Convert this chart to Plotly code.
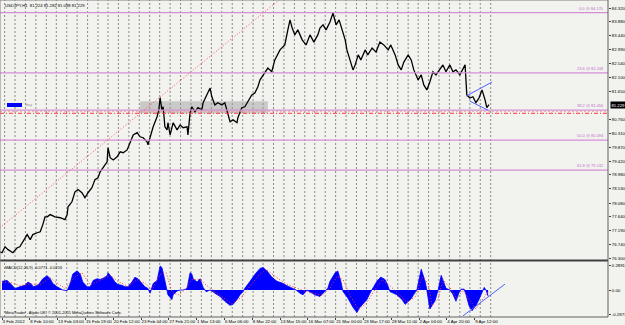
import datetime as dt
import plotly.graph_objects as go

# ---------------- data ----------------
header_text = "USDJPY,H1  81.224 81.282 81.098 81.229"
macd_text = "MACD(12,26,9) -0.0771 -0.0216"
copyright_text = "MetaTrader - Alpari UK, \u00a9 2001-2011 MetaQuotes Software Corp."

price_bar = [-5, 0, 7, 14, 25, 35, 41, 48, 58, 65, 71, 81, 88, 94, 99, 104, 111, 122, 134, 145,
             150, 152, 161, 168, 175, 184, 191, 198, 207, 214, 221, 226, 233, 242, 244, 249, 256,
             265, 272, 279, 288, 295, 302, 311, 318, 325, 334, 336, 341, 348, 357, 361, 364, 368,
             371, 375, 380, 382, 387, 394, 403, 410, 417, 426, 428, 433, 437, 444, 451, 460, 463,
             472, 479, 483, 490, 497, 506, 513, 518, 525, 532, 541, 543, 552, 559, 566, 575, 582,
             589, 594, 601, 612, 621, 628, 640, 651, 658, 663, 668, 674, 681, 691, 700, 709, 718,
             727, 732, 739, 746, 755, 762, 769, 776, 783, 790, 794, 801, 808, 813, 820, 826, 836,
             842, 852, 861, 870, 879, 889, 895, 905, 912, 919, 925, 935, 942, 948, 958, 965, 971,
             978, 985, 992, 999, 1008, 1015, 1022, 1031, 1038, 1045, 1054, 1061, 1066, 1070, 1077,
             1084, 1091, 1098, 1105, 1112, 1116, 1121]
price_close = [76.52, 76.49, 76.68, 76.59, 76.49, 76.65, 76.68, 76.84, 77.07, 76.91, 77.07, 77.13,
               77.16, 77.39, 77.64, 77.64, 77.71, 77.64, 77.61, 77.55, 77.71, 77.96, 78.12, 78.44,
               78.51, 78.41, 78.25, 78.41, 78.57, 78.83, 78.89, 79.08, 79.24, 79.40, 79.85, 79.53,
               79.46, 79.56, 79.72, 79.69, 79.78, 80.01, 80.26, 80.33, 80.20, 80.17, 80.04, 79.94,
               80.20, 80.52, 80.84, 81.06, 81.45, 81.06, 81.16, 80.52, 80.42, 80.65, 80.26, 80.65,
               80.42, 80.58, 80.49, 80.52, 80.26, 80.97, 81.16, 81.00, 81.13, 81.06, 81.29, 81.54,
               81.76, 81.48, 81.22, 81.29, 81.22, 81.29, 81.00, 80.68, 80.74, 80.65, 80.81, 81.13,
               81.16, 81.32, 81.54, 81.60, 81.80, 82.02, 82.18, 82.40, 82.28, 82.66, 82.98, 83.14,
               83.62, 83.94, 83.68, 83.46, 83.62, 83.30, 83.14, 83.46, 83.23, 83.46, 83.68, 83.78,
               83.62, 83.87, 84.16, 83.78, 83.94, 83.62, 83.30, 82.98, 82.66, 82.34, 82.50, 82.82,
               82.66, 82.98, 82.82, 83.04, 82.91, 83.23, 83.14, 82.98, 83.14, 82.82, 82.50, 82.34,
               82.59, 82.82, 82.66, 82.34, 82.02, 82.18, 81.86, 81.70, 81.96, 82.28, 82.18, 82.34,
               82.50, 82.28, 82.50, 82.28, 82.34, 82.18, 82.40, 82.50, 81.54, 81.44, 81.48, 81.29,
               81.44, 81.70, 81.38, 81.13, 81.23]

macd_bar = [0, 12, 23, 30, 41, 53, 60, 69, 71, 83, 94, 104, 111, 117, 127, 134, 140, 150, 157, 163,
            173, 180, 186, 196, 203, 210, 219, 226, 233, 242, 244, 253, 260, 267, 276, 283, 290,
            299, 306, 313, 322, 329, 336, 341, 348, 357, 364, 368, 371, 375, 380, 382, 391, 394,
            403, 410, 417, 426, 433, 437, 440, 449, 456, 463, 470, 479, 486, 490, 502, 513, 525,
            532, 541, 548, 555, 559, 571, 582, 594, 601, 610, 621, 633, 645, 656, 668, 677, 686,
            693, 702, 709, 720, 732, 744, 750, 755, 767, 773, 780, 785, 796, 808, 817, 824, 831,
            840, 847, 854, 863, 872, 882, 889, 893, 909, 921, 928, 935, 942, 948, 955, 965, 974,
            978, 985, 997, 1004, 1011, 1017, 1022, 1031, 1038, 1045, 1052, 1057, 1064, 1068, 1075,
            1082, 1091, 1098, 1105, 1110, 1114, 1119]
macd_hist = [0.100, 0.111, 0.055, 0.018, 0.037, 0.055, 0.092, 0.063, 0.037, 0.055, 0.130, 0.166,
             0.130, 0.074, 0.037, 0.018, 0.000, -0.007, 0.074, 0.185, 0.222, 0.185, 0.092, 0.037,
             0.037, 0.111, 0.130, 0.122, 0.137, 0.166, 0.200, 0.148, 0.092, 0.063, 0.055, 0.037,
             0.037, 0.092, 0.148, 0.130, 0.074, 0.037, 0.018, -0.037, 0.074, 0.111, 0.277, 0.260,
             0.200, 0.092, 0.000, -0.055, -0.111, -0.055, -0.011, 0.000, 0.000, 0.018, 0.200,
             0.185, 0.130, 0.092, 0.130, 0.030, -0.020, 0.000, -0.020, -0.037, -0.074, -0.130,
             -0.177, -0.166, -0.111, -0.055, -0.018, 0.020, 0.100, 0.180, 0.250, 0.260, 0.220,
             0.150, 0.100, 0.080, 0.050, 0.020, 0.000, -0.037, -0.055, 0.000, -0.018, -0.055,
             -0.074, -0.018, 0.020, 0.100, 0.200, 0.220, 0.100, -0.018, -0.092, -0.200, -0.260,
             -0.200, -0.166, -0.111, -0.037, 0.030, 0.100, 0.150, 0.120, 0.040, -0.018, -0.055,
             -0.111, -0.166, -0.130, -0.100, -0.050, 0.000, 0.240, 0.100, 0.000, -0.220, -0.120,
             0.000, 0.170, 0.100, 0.020, 0.000, -0.050, -0.130, -0.030, 0.010, 0.010, -0.050,
             -0.180, -0.240, -0.180, -0.110, -0.030, 0.030, 0.000, -0.070]

signal_bar = [0, 18, 41, 65, 88, 111, 127, 145, 168, 184, 203, 226, 249, 267, 290, 311, 329, 345,
              364, 378, 391, 405, 421, 437, 456, 479, 502, 529, 552, 571, 589, 608, 628, 651, 679,
              709, 737, 755, 771, 785, 801, 820, 838, 854, 875, 893, 912, 932, 951, 967, 981, 990,
              1004, 1015, 1031, 1047, 1061, 1077, 1091, 1110, 1119]
signal_val = [0.09, 0.09, 0.05, 0.07, 0.06, 0.14, 0.08, 0.02, 0.15, 0.20, 0.06, 0.11, 0.17, 0.10,
              0.04, 0.12, 0.08, 0.00, 0.18, 0.20, -0.02, -0.06, 0.00, 0.12, 0.12, 0.02, -0.06,
              -0.16, -0.08, 0.04, 0.16, 0.24, 0.16, 0.08, 0.02, -0.03, -0.06, 0.02, 0.16, 0.12,
              -0.06, -0.22, -0.16, -0.03, 0.12, 0.05, -0.04, -0.14, -0.08, 0.15, 0.08, -0.18,
              -0.10, 0.12, 0.03, -0.10, 0.00, -0.12, -0.22, -0.08, -0.02]

x_tick_text = ["3 Feb 2012", "8 Feb 10:00", "13 Feb 03:00", "15 Feb 19:00", "20 Feb 12:00",
               "23 Feb 04:00", "27 Feb 21:00", "1 Mar 13:00", "6 Mar 06:00", "8 Mar 22:00",
               "13 Mar 15:00", "16 Mar 07:00", "21 Mar 00:00", "23 Mar 17:00", "28 Mar 11:00",
               "2 Apr 04:00", "4 Apr 20:00", "9 Apr 12:00"]
bars_per_label = 64

y_tick_text = ["84.320", "83.880", "83.440", "82.990", "82.540", "82.100", "81.650", "80.760",
               "80.310", "79.870", "79.420", "78.980", "78.530", "78.080", "77.640", "77.190",
               "76.740", "76.300"]
macd_tick_vals = [0.2891, 0.0, -0.2871]
macd_tick_text = ["0.2891", "0.00", "-0.2871"]

last_price = 81.229
fib_high = 84.170
fib_low = 76.018
fib_pcts = [0.0, 23.6, 38.2, 50.0, 61.8]

order_levels = [81.016, 80.952]          # red order lines
zone_bars = [318, 612]                   # grey zone
zone_prices = [80.952, 81.337]
red_trend_bars = [-5, 638]
red_trend_prices = [77.29, 84.576]
blue_up_bars = [1068, 1128]
blue_up_prices = [81.50, 81.95]
blue_dn_bars = [1077, 1119]
blue_dn_prices = [81.34, 81.05]
macd_trend_bars = [1061, 1158]
macd_trend_vals = [-0.30, 0.069]

# ---------------- calendar (H1 bars, Fri closes at 22:00) ----------------
def next_bar(t):
    t = t + dt.timedelta(hours=1)
    while t.weekday() >= 5 or (t.weekday() == 4 and t.hour == 23):
        t += dt.timedelta(hours=1)
    return t

t = dt.datetime(2012, 2, 3, 17)
day_starts = []
for b in range(0, 1131):
    if t.hour == 0:
        day_starts.append(b)
    t = next_bar(t)

# ---------------- figure ----------------
BG = "#f2f3ef"
FONT = "Liberation Sans"
W, H = 625, 325
L, R, T, B = 0, 17, 0, 8
PW, PH = W - L - R, H - T - B
main_bottom_px, macd_top_px = 259, 262


def py(px):  # pixel row -> paper y
    return 1 - px / PH


def pxx(px):
    return px / PW


fig = go.Figure()

fig.add_trace(go.Scatter(x=price_bar, y=price_close, mode="lines",
                         line=dict(color="black", width=1.3), xaxis="x", yaxis="y",
                         hoverinfo="skip", showlegend=False))

fig.add_trace(go.Scatter(x=macd_bar, y=macd_hist, mode="lines", fill="tozeroy",
                         fillcolor="#0000ff", line=dict(color="#0000ff", width=0.8),
                         xaxis="x", yaxis="y2", hoverinfo="skip", showlegend=False))
fig.add_trace(go.Scatter(x=signal_bar, y=signal_val, mode="lines",
                         line=dict(color="#ff3030", width=1, dash="1px,2px"),
                         xaxis="x", yaxis="y2", hoverinfo="skip", showlegend=False))

shapes = []
# daily separators
for b in day_starts:
    shapes.append(dict(type="line", xref="x", yref="paper", x0=b, x1=b, y0=0, y1=1,
                       line=dict(color="#8a8a8a", width=1, dash="2px,2px"), layer="below"))
# grey zone
shapes.append(dict(type="rect", xref="x", yref="y", x0=zone_bars[0], x1=zone_bars[1],
                   y0=zone_prices[0], y1=zone_prices[1], fillcolor="rgba(150,150,150,0.45)",
                   line=dict(width=0), layer="below"))
# fib levels
for p in fib_pcts:
    lvl = fib_high - (fib_high - fib_low) * p / 100
    shapes.append(dict(type="line", xref="paper", yref="y", x0=0, x1=1, y0=lvl, y1=lvl,
                       line=dict(color="#d48fd8", width=1.2)))
# buy level / order lines
shapes.append(dict(type="line", xref="paper", yref="y", x0=0, x1=1, y0=order_levels[0],
                   y1=order_levels[0], line=dict(color="#f0a0a0", width=1, dash="2px,2px")))
shapes.append(dict(type="line", xref="paper", yref="y", x0=0, x1=1, y0=order_levels[1],
                   y1=order_levels[1], line=dict(color="#ff3333", width=1, dash="4px,2px,1px,2px")))
# trend lines
shapes.append(dict(type="line", xref="x", yref="y", x0=red_trend_bars[0], x1=red_trend_bars[1],
                   y0=red_trend_prices[0], y1=red_trend_prices[1],
                   line=dict(color="#ff5050", width=1, dash="1px,2px")))
shapes.append(dict(type="line", xref="x", yref="y", x0=blue_up_bars[0], x1=blue_up_bars[1],
                   y0=blue_up_prices[0], y1=blue_up_prices[1], line=dict(color="#5060ff", width=1)))
shapes.append(dict(type="line", xref="x", yref="y", x0=blue_dn_bars[0], x1=blue_dn_bars[1],
                   y0=blue_dn_prices[0], y1=blue_dn_prices[1], line=dict(color="#5060ff", width=1)))
shapes.append(dict(type="line", xref="x", yref="y2", x0=macd_trend_bars[0], x1=macd_trend_bars[1],
                   y0=macd_trend_vals[0], y1=macd_trend_vals[1], line=dict(color="#5060ff", width=1)))
# pane borders
shapes.append(dict(type="line", xref="paper", yref="paper", x0=0, x1=1,
                   y0=py(260.5), y1=py(260.5), line=dict(color="#404040", width=2)))
shapes.append(dict(type="line", xref="paper", yref="paper", x0=0, x1=0, y0=0, y1=1,
                   line=dict(color="#808080", width=1)))
shapes.append(dict(type="line", xref="paper", yref="paper", x0=0, x1=1, y0=1, y1=1,
                   line=dict(color="#808080", width=1)))
shapes.append(dict(type="line", xref="paper", yref="paper", x0=1, x1=1, y0=0, y1=1,
                   line=dict(color="#606060", width=1)))
shapes.append(dict(type="line", xref="paper", yref="paper", x0=0, x1=1, y0=0, y1=0,
                   line=dict(color="#606060", width=1)))
# blue buy marker
shapes.append(dict(type="rect", xref="paper", yref="paper", x0=pxx(7), x1=pxx(22),
                   y0=py(107), y1=py(103), fillcolor="#0000ff", line=dict(width=0)))

annotations = []


def f(size, color="black"):
    return dict(family=FONT, size=size, color=color)


annotations.append(dict(text=header_text, xref="paper", yref="paper", x=pxx(3), y=py(5),
                        xanchor="left", yanchor="middle", showarrow=False, font=f(4.2)))
annotations.append(dict(text=macd_text, xref="paper", yref="paper", x=pxx(3), y=py(267),
                        xanchor="left", yanchor="middle", showarrow=False, font=f(4)))
annotations.append(dict(text=copyright_text, xref="paper", yref="paper", x=pxx(3), y=py(312),
                        xanchor="left", yanchor="middle", showarrow=False, font=f(4)))
annotations.append(dict(text="buy", xref="paper", yref="paper", x=pxx(24), y=py(105),
                        xanchor="left", yanchor="middle", showarrow=False,
                        font=f(3.8, "#909090")))
for p in fib_pcts:
    lvl = fib_high - (fib_high - fib_low) * p / 100
    annotations.append(dict(text=f"{p:.1f} @ {lvl:.3f}", xref="paper", yref="y", x=pxx(606),
                            y=lvl, xanchor="right", yanchor="bottom", showarrow=False,
                            font=f(4, "#c070c8")))
annotations.append(dict(text=f"{last_price:.3f}", xref="paper", yref="y", x=1, y=last_price,
                        xanchor="left", yanchor="middle", showarrow=False, xshift=2,
                        bgcolor="black", borderpad=0.5, font=f(4.2, "white")))

y_tick_vals = [float(s) for s in y_tick_text]
fig.update_layout(
    width=W, height=H, margin=dict(l=L, r=R, t=T, b=B, autoexpand=False),
    paper_bgcolor=BG, plot_bgcolor=BG,
    shapes=shapes, annotations=annotations, showlegend=False,
    xaxis=dict(domain=[0, 1], anchor="y2", range=[-4.6, 1395], showgrid=False, zeroline=False,
               tickmode="array",
               tickvals=[i * bars_per_label for i in range(len(x_tick_text))],
               ticktext=x_tick_text, ticks="outside", ticklen=2, tickcolor="#404040",
               ticklabelposition="outside right", tickangle=0, automargin=False,
               tickfont=f(4.4), showline=False),
    yaxis=dict(domain=[py(main_bottom_px), 1], range=[76.29, 84.576], side="right",
               tickmode="array", tickvals=y_tick_vals, ticktext=y_tick_text, automargin=False,
               ticks="outside", ticklen=2, tickcolor="#404040", showgrid=False, zeroline=False,
               tickfont=f(4.3), anchor="x"),
    yaxis2=dict(domain=[0, py(macd_top_px)], range=[-0.312, 0.324], side="right",
                tickmode="array", tickvals=macd_tick_vals, ticktext=macd_tick_text,
                automargin=False,
                ticks="outside", ticklen=2, tickcolor="#404040", showgrid=False,
                zeroline=False, tickfont=f(4.3), anchor="x"),
)

fig.write_html("out.html")
